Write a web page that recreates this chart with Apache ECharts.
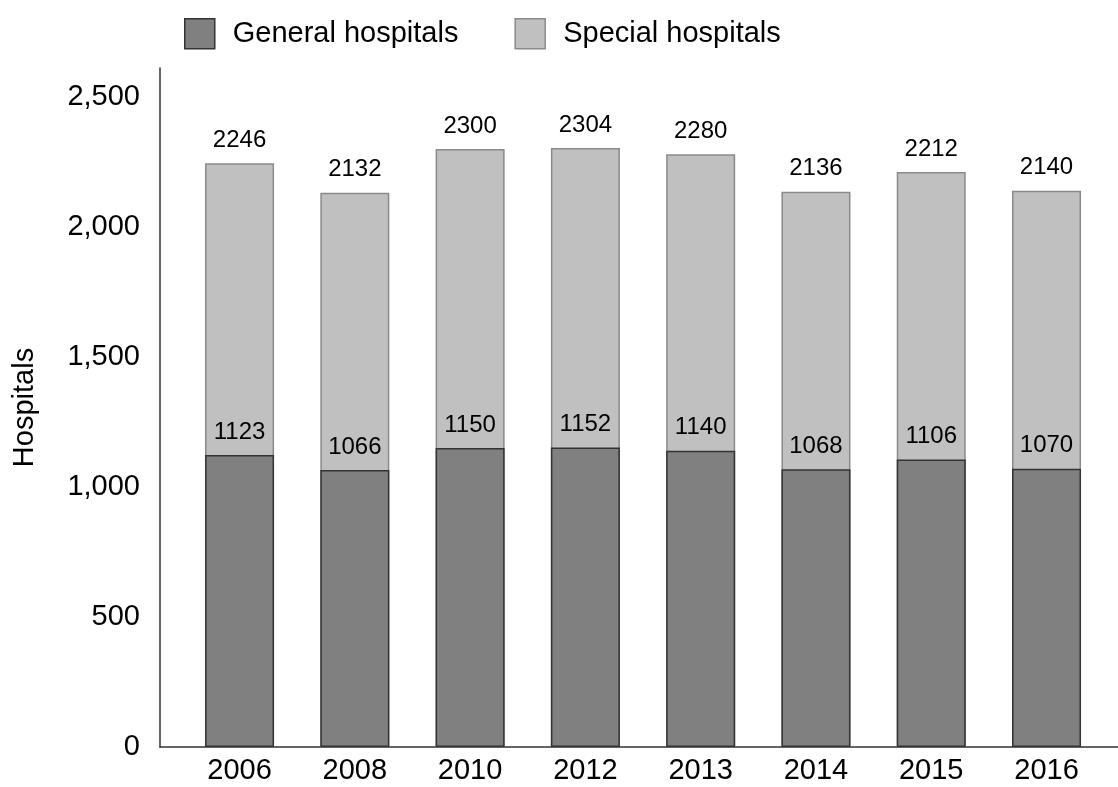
<!DOCTYPE html>
<html>
<head>
<meta charset="utf-8">
<script src="https://cdn.jsdelivr.net/npm/echarts@6/dist/echarts.min.js"></script>
<style>
  html, body { margin: 0; padding: 0; background: #fff; }
  #chart { width: 1118px; height: 787px; }
</style>
</head>
<body>
<div id="chart"></div>
<script>
const years = ['2006', '2008', '2010', '2012', '2013', '2014', '2015', '2016'];
const generalHospitals = [1123, 1066, 1150, 1152, 1140, 1068, 1106, 1070];
const specialHospitals = [2246, 2132, 2300, 2304, 2280, 2136, 2212, 2140];
const yTicks = [0, 500, 1000, 1500, 2000, 2500];

const FONT = '"Liberation Sans", Arial, sans-serif';
const chart = echarts.init(document.getElementById('chart'), null, { renderer: 'canvas' });

const idx = years.map((_, i) => i);

chart.setOption({
  backgroundColor: '#ffffff',
  animation: false,
  textStyle: { fontFamily: FONT, color: '#000' },
  legend: {
    top: 13,
    left: 179,
    icon: 'rect',
    itemWidth: 30,
    itemHeight: 30,
    itemGap: 56,
    itemStyle: { borderWidth: 1.5 },
    textStyle: { fontSize: 29, color: '#000', fontFamily: FONT, padding: [0, 0, 0, 13] },
    data: ['General hospitals', 'Special hospitals']
  },
  grid: { left: 160, right: 0, top: 68, bottom: 40, containLabel: false },
  xAxis: {
    type: 'value',
    min: -0.69,
    max: 7.62,
    splitLine: { show: false },
    axisTick: { show: false },
    axisLine: { show: true, onZero: false, lineStyle: { color: '#333', width: 1.5 } },
    axisLabel: {
      customValues: idx,
      formatter: (v) => years[Math.round(v)] || '',
      fontSize: 29, color: '#000', fontFamily: FONT, margin: 9
    }
  },
  yAxis: {
    type: 'value',
    min: 0,
    max: 2612,
    name: 'Hospitals',
    nameLocation: 'middle',
    nameGap: 121,
    nameRotate: 90,
    nameTextStyle: { fontSize: 29, color: '#000', fontFamily: FONT },
    splitLine: { show: false },
    axisTick: { show: false },
    axisLine: { show: true, onZero: false, lineStyle: { color: '#333', width: 1.5 } },
    axisLabel: {
      customValues: yTicks,
      fontSize: 29, color: '#000', fontFamily: FONT, margin: 20
    }
  },
  series: [
    {
      name: 'Special hospitals',
      type: 'bar',
      barWidth: 69,
      barGap: '-100%',
      data: specialHospitals.map((v, i) => [i, v]),
      itemStyle: { color: '#c0c0c0', borderColor: '#8a8a8a', borderWidth: 1.5 },
      label: { show: true, position: 'top', distance: 11, fontSize: 24, color: '#000', fontFamily: FONT,
               formatter: (p) => String(p.value[1]) }
    },
    {
      name: 'General hospitals',
      type: 'bar',
      barWidth: 69,
      barGap: '-100%',
      data: generalHospitals.map((v, i) => [i, v]),
      itemStyle: { color: '#808080', borderColor: '#333333', borderWidth: 1.5 },
      label: { show: true, position: 'top', distance: 11, fontSize: 24, color: '#000', fontFamily: FONT,
               formatter: (p) => String(p.value[1]) }
    }
  ]
});
</script>
</body>
</html>
